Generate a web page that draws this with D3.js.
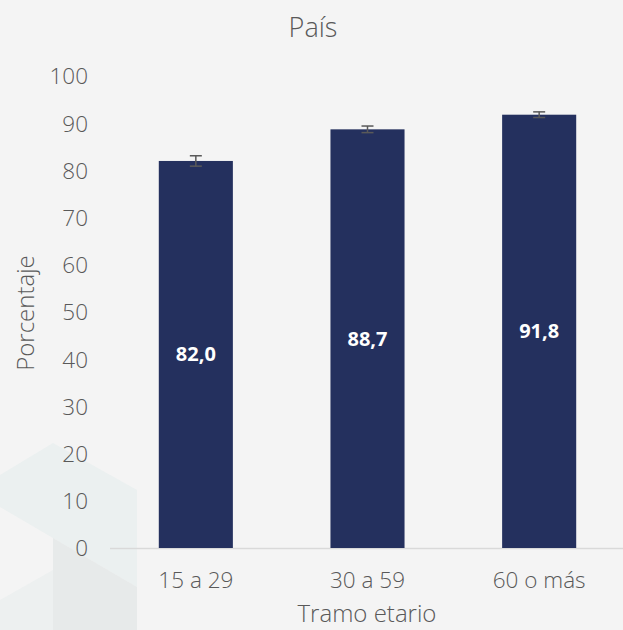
<!DOCTYPE html>
<html><head><meta charset="utf-8">
<script src="https://cdn.jsdelivr.net/npm/d3@7"></script>
<style>
html,body{margin:0;padding:0;background:#f4f4f4;}
svg{display:block;}
</style></head>
<body>
<script>
const categories = ["15 a 29", "30 a 59", "60 o más"];
const values = [82.0, 88.7, 91.8];
const errors = [1.1, 0.7, 0.6];
const labels = ["82,0", "88,7", "91,8"];
const yTicks = [0,10,20,30,40,50,60,70,80,90,100];
const title = "País";
const xTitle = "Tramo etario";
const yTitle = "Porcentaje";

const W = 623, H = 630;
const font = "'Open Sans', Lato, sans-serif";
const txt = "#595959";
const svg = d3.select("body").append("svg").attr("width", W).attr("height", H);
svg.append("rect").attr("width", W).attr("height", H).attr("fill", "#f4f4f4");

// faint watermark
const wm = svg.append("g");
wm.append("polygon").attr("points", "53,443 137,490 137,587 53,538 0,507 0,475").attr("fill", "#ebf0f0");
wm.append("polygon").attr("points", "53,538 137,587 137,630 53,630").attr("fill", "#e7eaea");
wm.append("polygon").attr("points", "0,600 53,570 53,630 0,630").attr("fill", "#edf0f0");

const x = d3.scaleBand().domain(categories).range([110, 625]).paddingInner(0.5685).paddingOuter(0.5685/2);
const y = d3.scaleLinear().domain([0, 100]).range([548, 76]);

// title
svg.append("text").attr("x", 313).attr("y", 37).attr("text-anchor", "middle")
  .attr("font-family", font).attr("font-weight", 300).attr("font-size", 27).attr("fill", txt).text(title);

// y ticks
const yAxis = d3.axisLeft(y).tickValues(yTicks).tickSize(0).tickPadding(0);
const gy = svg.append("g").attr("transform", "translate(88,0)").call(yAxis);
gy.select(".domain").remove();
gy.selectAll("text").attr("font-family", font).attr("font-weight", 300).attr("font-size", 22.5).attr("fill", txt).attr("dy", "0.35em");

// x axis
const xAxis = d3.axisBottom(x).tickSize(0).tickPadding(0);
const gx = svg.append("g").attr("transform", "translate(0,548)").call(xAxis);
gx.select(".domain").attr("stroke", "#d9d9d9").attr("stroke-width", 1.5).attr("d", "M110,0.5H625");
gx.selectAll("text").attr("font-family", font).attr("font-weight", 300).attr("font-size", 22.5).attr("fill", txt).attr("y", 40).attr("dy", 0);

// bars
svg.append("g").selectAll("rect").data(values).join("rect")
  .attr("x", (d,i) => x(categories[i])).attr("width", x.bandwidth())
  .attr("y", d => y(d)).attr("height", d => y(0) - y(d))
  .attr("fill", "#24305e");

// error bars
const eg = svg.append("g").attr("stroke", "#595959");
values.forEach((v,i) => {
  const cx = x(categories[i]) + x.bandwidth()/2;
  eg.append("line").attr("x1", cx).attr("x2", cx).attr("y1", y(v+errors[i])).attr("y2", y(v-errors[i])).attr("stroke-width", 1.5);
  eg.append("line").attr("x1", cx-6).attr("x2", cx+6).attr("y1", y(v+errors[i])).attr("y2", y(v+errors[i])).attr("stroke-width", 1.5);
  eg.append("line").attr("x1", cx-6).attr("x2", cx+6).attr("y1", y(v-errors[i])).attr("y2", y(v-errors[i])).attr("stroke-width", 1.5);
});

// value labels
svg.append("g").selectAll("text").data(values).join("text")
  .attr("x", (d,i) => x(categories[i]) + x.bandwidth()/2)
  .attr("y", d => (y(d) + y(0))/2).attr("dy", "0.35em")
  .attr("text-anchor", "middle").attr("font-family", font).attr("font-weight", "bold")
  .attr("font-size", 20).attr("fill", "#ffffff").text((d,i) => labels[i]);

// axis titles
svg.append("text").attr("x", 367).attr("y", 622).attr("text-anchor", "middle")
  .attr("font-family", font).attr("font-weight", 300).attr("font-size", 24).attr("fill", txt).text(xTitle);
svg.append("text").attr("transform", "translate(34,313) rotate(-90)").attr("text-anchor", "middle")
  .attr("font-family", font).attr("font-weight", 300).attr("font-size", 24).attr("fill", txt).text(yTitle);
</script>
</body></html>
